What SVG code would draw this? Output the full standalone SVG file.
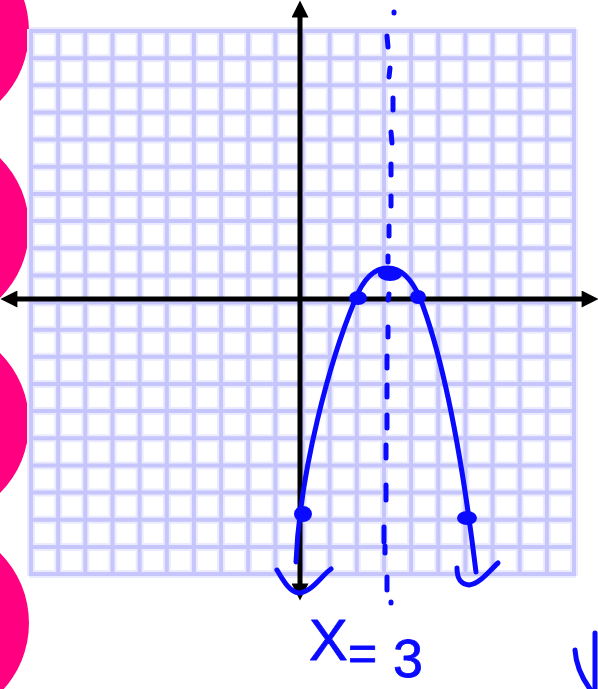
<svg xmlns="http://www.w3.org/2000/svg" width="598" height="689" viewBox="0 0 598 689">
<style>
.halo{stroke:#ebebff;stroke-width:8;fill:none}
.grid{stroke:#c6c6fc;stroke-width:4;fill:none}
.axis{stroke:#000;stroke-width:5;fill:none}
.ink{stroke:#0a0aff;stroke-width:5;fill:none;stroke-linecap:round;stroke-linejoin:round}
.dot{fill:#0a0aff}
.pink{fill:#ff0080}
.hand{font-family:"Liberation Sans","DejaVu Sans",sans-serif;fill:#0a0aff;stroke:#0a0aff;stroke-width:0.8;stroke-linejoin:round}
</style>
<defs>
<marker id="ah" viewBox="0 0 10 10" refX="2" refY="5" markerWidth="3.8" markerHeight="3.4" orient="auto" markerUnits="strokeWidth">
<path d="M0,0L10,5L0,10z" fill="#000"/>
</marker>
</defs>
<rect width="598" height="689" fill="#fff"/>
<g id="tabs">
<circle class="pink" cx="-70" cy="31" r="99"/>
<circle class="pink" cx="-70" cy="228" r="99"/>
<circle class="pink" cx="-70" cy="423" r="99"/>
<circle class="pink" cx="-70" cy="623" r="99"/>
</g>
<g id="grid">
<rect x="29" y="29" width="547" height="547" fill="#fff"/>
<path class="halo" d="M31 29V576M58.2 29V576M85.3 29V576M112.5 29V576M139.6 29V576M166.8 29V576M193.9 29V576M221.1 29V576M248.2 29V576M275.4 29V576M302.5 29V576M329.7 29V576M356.8 29V576M384 29V576M411.1 29V576M438.3 29V576M465.4 29V576M492.6 29V576M519.7 29V576M546.9 29V576M574 29V576 M29 31H576M29 58.2H576M29 85.3H576M29 112.5H576M29 139.6H576M29 166.8H576M29 193.9H576M29 221.1H576M29 248.2H576M29 275.4H576M29 302.5H576M29 329.7H576M29 356.8H576M29 384H576M29 411.1H576M29 438.3H576M29 465.4H576M29 492.6H576M29 519.7H576M29 546.9H576M29 574H576"/>
<path class="grid" d="M31 29V576M58.2 29V576M85.3 29V576M112.5 29V576M139.6 29V576M166.8 29V576M193.9 29V576M221.1 29V576M248.2 29V576M275.4 29V576M302.5 29V576M329.7 29V576M356.8 29V576M384 29V576M411.1 29V576M438.3 29V576M465.4 29V576M492.6 29V576M519.7 29V576M546.9 29V576M574 29V576 M29 31H576M29 58.2H576M29 85.3H576M29 112.5H576M29 139.6H576M29 166.8H576M29 193.9H576M29 221.1H576M29 248.2H576M29 275.4H576M29 302.5H576M29 329.7H576M29 356.8H576M29 384H576M29 411.1H576M29 438.3H576M29 465.4H576M29 492.6H576M29 519.7H576M29 546.9H576M29 574H576"/>
</g>
<g id="axes">
<path class="axis" d="M300 299H14" marker-end="url(#ah)"/>
<path class="axis" d="M300 299H585" marker-end="url(#ah)"/>
<path class="axis" d="M300 299V14" marker-end="url(#ah)"/>
<path class="axis" d="M300 299V587" marker-end="url(#ah)"/>
</g>
<g id="symmetry-line">
<path class="ink" d="M394 12L394 13M387 36L388 47M390 68L389 77M393 98L393 110M391 132L392 143M391 164L391 175M391 196L391 206M389 226L389 236M388 256L388 262M389 294L388 300M388 327L388 337M387 356L387 368M387 385L387 397M387 415L387 428M386 445L386 458M386 485L386 500M384 527L384 542M385 546L385 553M387 577L387 590M391 602L391 603"/>
</g>
<g id="parabola">
<path class="ink" d="M296 562C300 470 330 360 355 300C362 282 372 268 388 268C402 268 412 280 420 298C440 350 460 440 476 572"/>
<ellipse class="dot" cx="303" cy="514" rx="9" ry="8"/>
<ellipse class="dot" cx="467" cy="518" rx="10" ry="7"/>
<ellipse class="dot" cx="390" cy="274" rx="12" ry="7"/>
<ellipse class="dot" cx="358" cy="298" rx="9" ry="7"/>
<ellipse class="dot" cx="418" cy="297" rx="8" ry="7"/>
<path class="ink" d="M277 570C284 582 290 592 299 593C312 592 322 575 331 569"/>
<path class="ink" d="M457 568C457 578 460 584 469 585C480 584 490 570 498 563"/>
</g>
<g id="label">
<text class="hand" font-size="58"><tspan x="309" y="660">X</tspan><tspan x="348" y="670" font-size="50">=</tspan><tspan x="393" y="677" font-size="54">3</tspan></text>
<path class="ink" d="M575 650C576 666 582 678 590 689M595 633V689"/>
</g>
</svg>
